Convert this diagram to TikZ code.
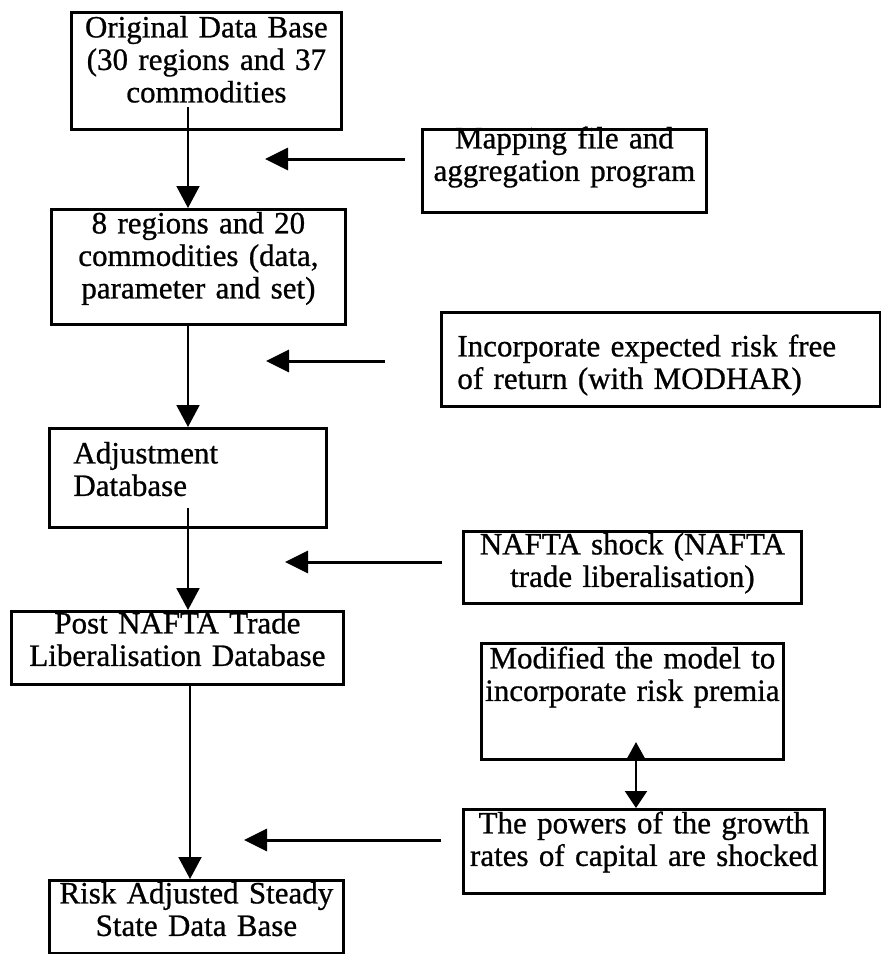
\documentclass[tikz,border=0pt]{standalone}
\usepackage{fontspec}
\setmainfont{Liberation Serif}
\newfontfamily\scanfont{Liberation Serif}[FakeBold=0.8]
\usetikzlibrary{arrows.meta}
\begin{document}
\begin{tikzpicture}[x=1pt,y=-1pt,
  box/.style={draw, line width=2.8pt, inner ysep=0pt, inner xsep=2pt,
    anchor=north west, align=center, font=\scanfont\fontsize{31}{32.5}\selectfont},
  lbox/.style={box, align=left},
  flow/.style={line width=2pt, -{Triangle[length=22pt,width=23pt]}},
  feed/.style={line width=3pt, -{Triangle[length=23pt,width=22pt]}},
  link/.style={line width=2.5pt,
    {Triangle[length=17pt,width=18pt]}-{Triangle[length=17pt,width=22pt]}},
]
\useasboundingbox[fill=white] (0,0) rectangle (881,954);

% main chain of data bases
\node[box, text width=266, text height=25, text depth=92] (b1) at (70,11)
  {Original Data Base\\(30 regions and 37\\commodities};
\node[box, text width=290, text height=24, text depth=91] (b2) at (50,208)
  {8 regions and 20\\commodities (data,\\parameter and set)};
\node[lbox, inner xsep=24pt, text width=229, text height=35, text depth=64] (b3) at (48,427)
  {Adjustment\\Database};
\node[box, text width=328, text height=22, text depth=51] (b4) at (10,610)
  {Post NAFTA Trade\\Liberalisation Database};
\node[box, text width=290, text height=23, text depth=50] (b5) at (48,879)
  {Risk Adjusted Steady\\State Data Base};

% inputs on the right
\node[box, text width=280, text height=19, text depth=64] (map) at (421,128)
  {Mapping file and\\aggregation program};
\node[lbox, inner xsep=16pt, text width=407, text height=44, text depth=50] (inc) at (440,311)
  {Incorporate expected risk free\\of return (with MODHAR)};
\node[box, text width=334, text height=23, text depth=49] (naf) at (462,530)
  {NAFTA shock (NAFTA\\trade liberalisation)};
\node[box, text width=298, text height=25, text depth=91] (mod) at (480,642)
  {Modified the model to\\incorporate risk premia};
\node[box, text width=357, text height=24, text depth=60] (pow) at (462,808)
  {The powers of the growth\\rates of capital are shocked};

% vertical flow
\coordinate (a1s) at (188,107);
\draw[flow] (a1s) -- (a1s |- b2.north);
\draw[flow] (a1s |- b2.south) -- (a1s |- b3.north);
\coordinate (a3s) at (188,508);
\draw[flow] (a3s) -- (a3s |- b4.north);
\coordinate (a4x) at (190,0);
\draw[flow] (a4x |- b4.south) -- (a4x |- b5.north);

% incoming steps
\coordinate (h1s) at (405,159); \coordinate (h1e) at (265,159);
\draw[feed] (h1s) -- (h1e);
\coordinate (h2s) at (385,361); \coordinate (h2e) at (266,361);
\draw[feed] (h2s) -- (h2e);
\coordinate (h3s) at (442,562); \coordinate (h3e) at (285,562);
\draw[feed] (h3s) -- (h3e);
\coordinate (h4s) at (441,840); \coordinate (h4e) at (244,840);
\draw[feed] (h4s) -- (h4e);

% link between model change and shock
\coordinate (dx) at (636,742);
\draw[link] (dx) -- (dx |- pow.north);
\end{tikzpicture}
\end{document}
